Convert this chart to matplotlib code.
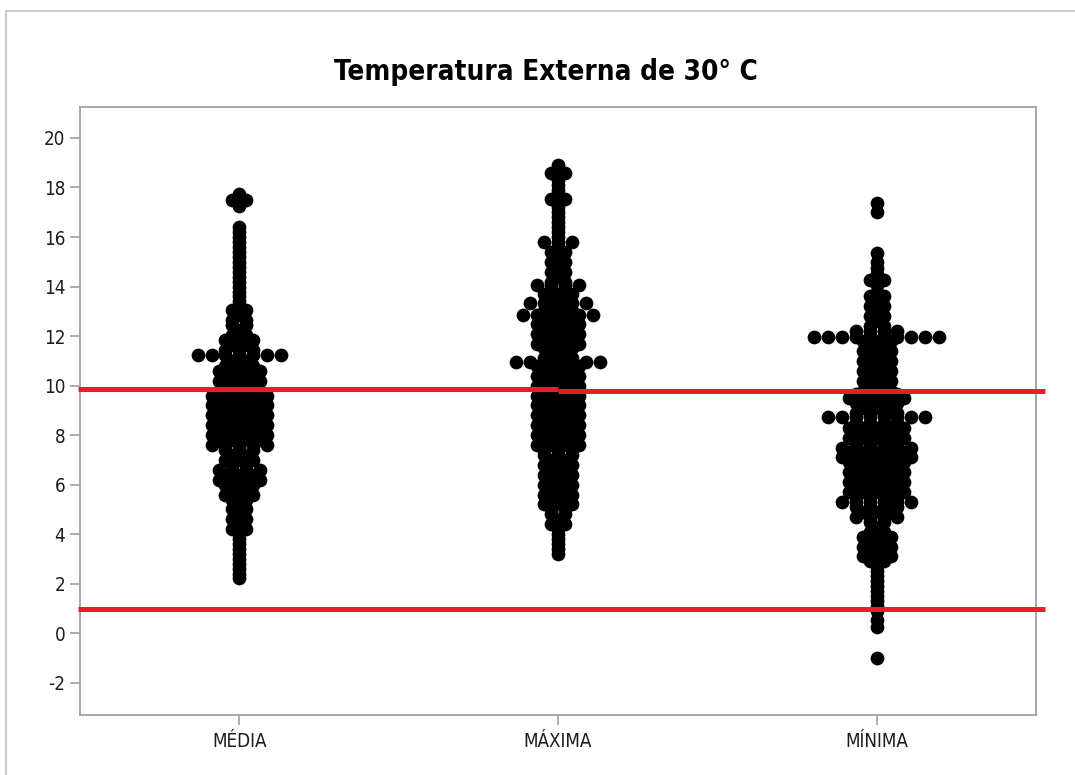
import matplotlib.pyplot as plt
from matplotlib.lines import Line2D

plt.rcParams['axes.unicode_minus'] = False

# grupos do grafico de valores individuais
grupos = ['MÉDIA', 'MÁXIMA', 'MÍNIMA']

# cada nivel de temperatura e quantos pontos ficam lado a lado nesse nivel
media_val = [17.75, 17.5, 17.25,
             16.4, 16.2, 16.0, 15.8, 15.6, 15.4, 15.2, 15.0, 14.8, 14.6, 14.4, 14.2,
             14.0, 13.8, 13.6, 13.4, 13.2, 13.05, 12.85, 12.65, 12.45, 12.25, 12.05,
             11.85, 11.65, 11.45, 11.22, 11.0, 10.8, 10.6, 10.4, 10.2, 10.0, 9.8,
             9.6, 9.4, 9.2, 9.0, 8.8, 8.6, 8.4, 8.2, 8.0, 7.8, 7.6,
             7.4, 7.2, 7.0, 6.8, 6.6, 6.4, 6.2, 6.0, 5.8, 5.6,
             5.4, 5.2, 5.0, 4.8, 4.6, 4.4, 4.2,
             4.0, 3.8, 3.6, 3.4, 3.2, 3.0, 2.8, 2.6, 2.4, 2.25]
media_qtd = [1, 2, 1,
             1, 1, 1, 1, 1, 1, 1, 1, 1, 1, 1, 1,
             1, 1, 1, 1, 1, 2, 1, 2, 2, 1, 2,
             3, 2, 3, 7, 2, 3, 4, 3, 4, 3, 4,
             5, 4, 5, 4, 5, 4, 5, 4, 5, 4, 5,
             3, 2, 3, 2, 4, 3, 4, 3, 2, 3,
             2, 1, 2, 1, 2, 1, 2,
             1, 1, 1, 1, 1, 1, 1, 1, 1, 1]

maxima_val = [18.9, 18.75, 18.6, 18.45, 18.3, 18.1, 17.9, 17.7, 17.55, 17.4, 17.2,
              17.0, 16.8, 16.6, 16.4, 16.2, 16.0, 15.8, 15.6, 15.4, 15.2, 15.0,
              14.8, 14.6, 14.4, 14.2, 14.05, 13.9, 13.7, 13.5, 13.35, 13.2, 13.0,
              12.85, 12.7, 12.5, 12.3, 12.1, 11.9, 11.7, 11.5, 11.3, 11.1, 10.95,
              10.8, 10.6, 10.4, 10.2, 10.0, 9.8, 9.6, 9.4, 9.2, 9.0, 8.8, 8.6,
              8.4, 8.2, 8.0, 7.8, 7.6, 7.4, 7.2, 7.0, 6.8, 6.6, 6.4, 6.2, 6.0,
              5.8, 5.6, 5.4, 5.2, 5.0, 4.8, 4.6, 4.4, 4.2, 4.0, 3.8, 3.6, 3.4, 3.2]
maxima_qtd = [1, 1, 2, 1, 1, 1, 1, 1, 2, 1, 1,
              1, 1, 1, 1, 1, 1, 3, 1, 2, 1, 2,
              1, 2, 1, 2, 4, 2, 3, 2, 5, 2, 3,
              6, 3, 4, 3, 4, 3, 4, 3, 2, 3, 7,
              4, 3, 4, 3, 4, 3, 4, 3, 4, 3, 4, 3,
              4, 3, 4, 3, 4, 3, 3, 2, 3, 2, 3, 2, 3,
              2, 3, 2, 3, 2, 2, 1, 2, 1, 1, 1, 1, 1, 1]

minima_val = [17.37, 17.0,
              15.35, 15.0, 14.75, 14.5, 14.27, 14.05, 13.8, 13.6, 13.4, 13.2, 13.0,
              12.8, 12.6, 12.4, 12.2, 11.97, 11.8, 11.6, 11.4, 11.2, 11.0, 10.8,
              10.6, 10.4, 10.2, 10.0, 9.8, 9.65, 9.5, 9.3, 9.1, 8.9, 8.74, 8.5, 8.3,
              8.1, 7.9, 7.7, 7.5, 7.3, 7.1, 6.9, 6.7, 6.5, 6.3, 6.1, 5.9, 5.7,
              5.5, 5.3, 5.1, 4.9, 4.7, 4.5, 4.3, 4.1, 3.9, 3.7, 3.5, 3.3, 3.1,
              2.9, 2.7, 2.5, 2.3, 2.1, 1.9, 1.7, 1.5, 1.3, 1.1, 0.9, 0.55, 0.25,
              -1.0]
minima_qtd = [1, 1,
              1, 1, 1, 1, 2, 1, 1, 2, 1, 2, 1,
              2, 1, 2, 4, 10, 3, 2, 3, 2, 3, 2,
              3, 2, 3, 2, 3, 4, 5, 4, 3, 4, 8, 4, 5,
              4, 5, 4, 6, 5, 6, 5, 4, 5, 4, 5, 4, 5,
              4, 6, 4, 3, 4, 2, 1, 2, 3, 2, 3, 2, 3,
              2, 1, 1, 1, 1, 1, 1, 1, 1, 1, 1, 1, 1,
              1]

# linhas de referencia (a de cima tem um degrau no meio)
ref_sup_esq = 9.88
ref_sup_dir = 9.78
ref_inf = 0.98

fig = plt.figure(figsize=(10.75, 7.75), dpi=100)
ax = fig.add_axes([80/1075, 1 - 715/775, 956/1075, 608/775])

dx = 0.0435   # distancia horizontal entre pontos do mesmo nivel
dados = [(media_val, media_qtd), (maxima_val, maxima_qtd), (minima_val, minima_qtd)]
for i, (vals, qtds) in enumerate(dados):
    xs, ys = [], []
    for v, n in zip(vals, qtds):
        for j in range(n):
            xs.append(i + 1 + (j - (n - 1) / 2) * dx)
            ys.append(v)
    ax.scatter(xs, ys, s=98, color='black', linewidths=0, zorder=3)

vermelho = '#ED1C24'
ax.plot([0.494, 2.0], [ref_sup_esq, ref_sup_esq], color=vermelho, lw=3.6,
        solid_capstyle='butt', clip_on=False, zorder=4)
ax.plot([2.0, 3.528], [ref_sup_dir, ref_sup_dir], color=vermelho, lw=3.6,
        solid_capstyle='butt', clip_on=False, zorder=4)
ax.plot([0.494, 3.528], [ref_inf, ref_inf], color=vermelho, lw=3.6,
        solid_capstyle='butt', clip_on=False, zorder=4)

ax.set_xlim(0.5, 3.5)
ax.set_ylim(-3.3, 21.25)
ax.set_xticks([1, 2, 3])
ax.set_xticklabels(grupos)
ax.set_yticks(range(-2, 21, 2))

for s in ax.spines.values():
    s.set_color('#A0A0A0')
    s.set_linewidth(1.3)
ax.tick_params(colors='#A0A0A0', length=7, width=1.2, labelcolor='#1c1c24')
ax.tick_params(axis='x', pad=5)
for lb in ax.get_xticklabels() + ax.get_yticklabels():
    lb.set_family('DejaVu Sans')
    lb.set_stretch('condensed')
    lb.set_fontsize(13.5)

fig.text(546/1075, 1 - 72/775, 'Temperatura Externa de 30° C', ha='center', va='center',
         fontsize=20, family='DejaVu Sans', stretch='condensed', weight='bold',
         color='black')

# moldura cinza do painel
fig.add_artist(Line2D([6/1075, 6/1075], [0, 1 - 11/775], color='#CCCCCC', lw=1.5))
fig.add_artist(Line2D([6/1075, 1], [1 - 11/775, 1 - 11/775], color='#CCCCCC', lw=1.5))

fig.savefig('out.png', dpi=100)
